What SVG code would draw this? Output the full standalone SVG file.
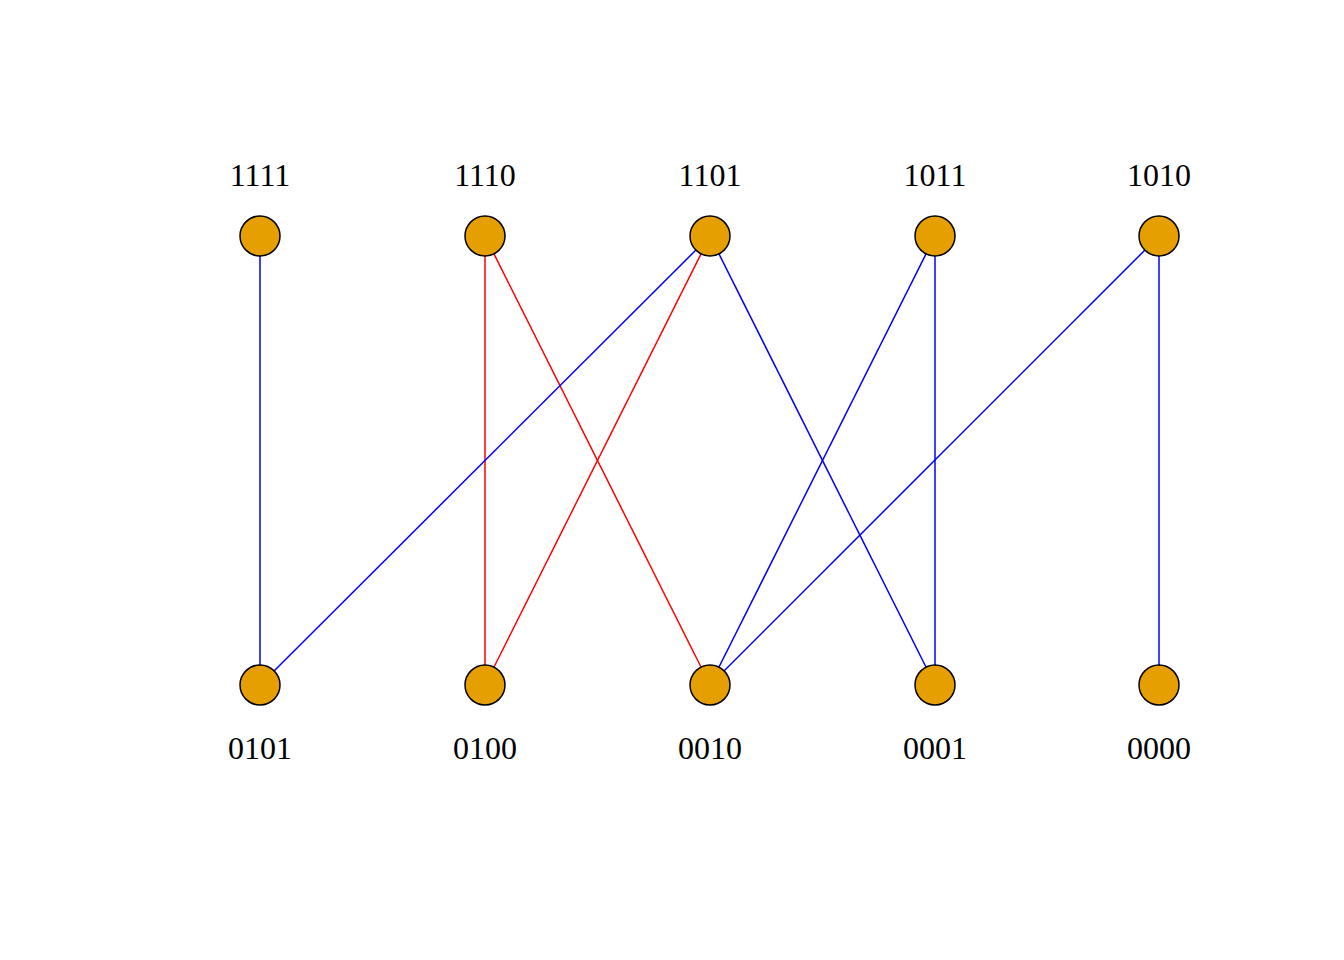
<svg xmlns="http://www.w3.org/2000/svg" width="1344" height="960" viewBox="0 0 1344 960">
<style>
.n{fill:#E69F00;stroke:#000;stroke-width:1.5}
.t{font-family:"Times New Roman","Liberation Serif",serif;font-size:32px;fill:#000;text-anchor:middle}
.b{stroke:#0000FF;stroke-width:1.5;fill:none}
.r{stroke:#FF0000;stroke-width:1.5;fill:none}
</style>
<rect width="1344" height="960" fill="#fff"/>
<g id="edges">
<line class="b" x1="260" y1="236" x2="260" y2="685"/>
<line class="r" x1="485" y1="236" x2="485" y2="685"/>
<line class="r" x1="485" y1="236" x2="710" y2="685"/>
<line class="b" x1="710" y1="236" x2="260" y2="685"/>
<line class="r" x1="710" y1="236" x2="485" y2="685"/>
<line class="b" x1="710" y1="236" x2="935" y2="685"/>
<line class="b" x1="935" y1="236" x2="710" y2="685"/>
<line class="b" x1="935" y1="236" x2="935" y2="685"/>
<line class="b" x1="1159" y1="236" x2="710" y2="685"/>
<line class="b" x1="1159" y1="236" x2="1159" y2="685"/>
</g>
<g id="n1111"><circle class="n" cx="260" cy="236" r="20"/><text class="t" x="260" y="186">1111</text></g>
<g id="n1110"><circle class="n" cx="485" cy="236" r="20"/><text class="t" x="485" y="186">1110</text></g>
<g id="n1101"><circle class="n" cx="710" cy="236" r="20"/><text class="t" x="710" y="186">1101</text></g>
<g id="n1011"><circle class="n" cx="935" cy="236" r="20"/><text class="t" x="935" y="186">1011</text></g>
<g id="n1010"><circle class="n" cx="1159" cy="236" r="20"/><text class="t" x="1159" y="186">1010</text></g>
<g id="n0101"><circle class="n" cx="260" cy="685" r="20"/><text class="t" x="260" y="759">0101</text></g>
<g id="n0100"><circle class="n" cx="485" cy="685" r="20"/><text class="t" x="485" y="759">0100</text></g>
<g id="n0010"><circle class="n" cx="710" cy="685" r="20"/><text class="t" x="710" y="759">0010</text></g>
<g id="n0001"><circle class="n" cx="935" cy="685" r="20"/><text class="t" x="935" y="759">0001</text></g>
<g id="n0000"><circle class="n" cx="1159" cy="685" r="20"/><text class="t" x="1159" y="759">0000</text></g>
</svg>
